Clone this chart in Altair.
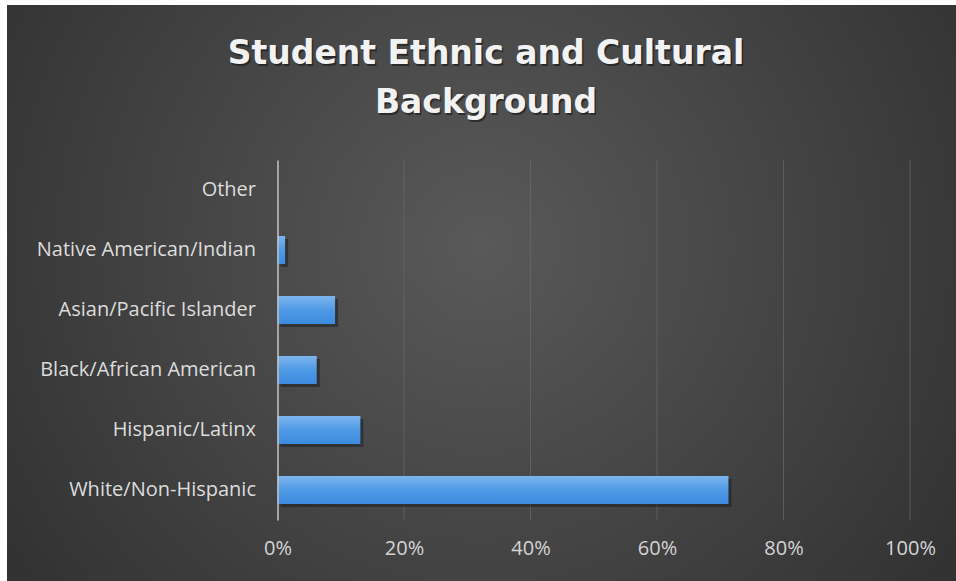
import altair as alt
import pandas as pd

categories = ["Other", "Native American/Indian", "Asian/Pacific Islander",
              "Black/African American", "Hispanic/Latinx", "White/Non-Hispanic"]
shares = [0.0, 0.012, 0.091, 0.062, 0.131, 0.713]
tick_values = [0, 0.2, 0.4, 0.6, 0.8, 1.0]
grid_values = [0.2, 0.4, 0.6, 0.8, 1.0]
title_lines = ["Student Ethnic and Cultural", "Background"]

df = pd.DataFrame({"category": categories, "share": shares})
grid_df = pd.DataFrame({"share": grid_values})

W, H = 632.5, 360
LEFT, TOP, RIGHT, BOTTOM = 277.5, 160, 46, 61

xscale = alt.Scale(domain=[0, 1], nice=False, zero=True)
yscale = alt.Scale(paddingInner=0, paddingOuter=0)
LABEL_FONT = "Open Sans"

x_axis = alt.Axis(
    values=tick_values, format="%", title=None, domain=False, ticks=False, grid=False,
    labelColor="#d4d4d4", labelFont=LABEL_FONT, labelFontSize=20, labelPadding=18,
    labelFlush=False, labelAlign="center", zindex=1)
y_axis = alt.Axis(
    title=None, ticks=False, domain=True, domainColor="#c4c4c4", domainWidth=1.5,
    labelColor="#dcdcdc", labelFont=LABEL_FONT, labelFontSize=20, labelPadding=22,
    labelLimit=300, zindex=1)

bg = alt.Chart(pd.DataFrame({"a": [0]})).mark_rect(
    fill=alt.Gradient(
        gradient="radial",
        stops=[alt.GradientStop(offset=0, color="#595959"),
               alt.GradientStop(offset=1, color="#262626")],
        x1=0.5, y1=0.45, r1=0, x2=0.5, y2=0.45, r2=0.78,
    )
).encode(
    x=alt.value(7 - LEFT), x2=alt.value(956 - LEFT),
    y=alt.value(5 - TOP), y2=alt.value(581 - TOP),
)

grid = alt.Chart(grid_df).mark_rule(color="#6a6a6a", strokeWidth=1, opacity=0.7).encode(
    x=alt.X("share:Q", scale=xscale, axis=x_axis),
    y=alt.value(0), y2=alt.value(H),
)

shadow = alt.Chart(df).mark_bar(size=28, color="#111820", opacity=0.45, xOffset=3, yOffset=3).encode(
    x=alt.X("share:Q", scale=xscale, axis=x_axis),
    y=alt.Y("category:N", sort=categories, scale=yscale, axis=y_axis),
)

bars = alt.Chart(df).mark_bar(
    size=28,
    fill=alt.Gradient(
        gradient="linear",
        stops=[alt.GradientStop(offset=0, color="#7db5ee"),
               alt.GradientStop(offset=0.5, color="#4f9ae6"),
               alt.GradientStop(offset=1, color="#3d8be0")],
        x1=0, y1=0, x2=0, y2=1,
    ),
).encode(
    x=alt.X("share:Q", scale=xscale, axis=x_axis),
    y=alt.Y("category:N", sort=categories, scale=yscale, axis=y_axis),
)

title_shadow = alt.Chart(pd.DataFrame({"a": [0]})).mark_text(
    text=title_lines, font="DejaVu Sans", fontWeight="bold", fontSize=33,
    lineHeight=49, align="center", baseline="alphabetic", color="#151515", opacity=0.6,
).encode(x=alt.value(486 - LEFT + 1.5), y=alt.value(64 - TOP + 1.5))

title = alt.Chart(pd.DataFrame({"a": [0]})).mark_text(
    text=title_lines, font="DejaVu Sans", fontWeight="bold", fontSize=33,
    lineHeight=49, align="center", baseline="alphabetic", color="#f2f2f2",
).encode(x=alt.value(486 - LEFT), y=alt.value(64 - TOP))

chart = alt.layer(bg, grid, shadow, bars, title_shadow, title).properties(
    width=W, height=H,
    autosize=alt.AutoSizeParams(type="none"),
    padding={"left": LEFT, "top": TOP, "right": RIGHT, "bottom": BOTTOM},
    background="white",
).configure_view(stroke=None)

chart.save("out.html", embed_options={"renderer": "svg", "actions": False})
